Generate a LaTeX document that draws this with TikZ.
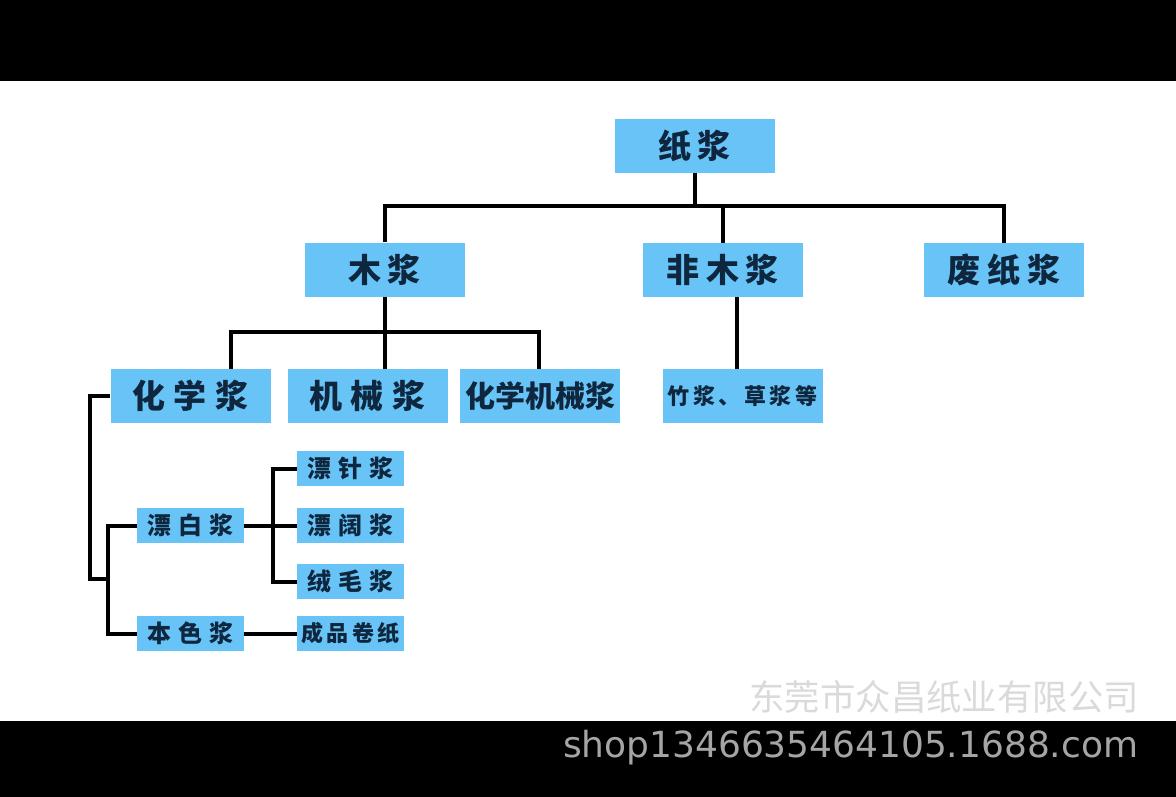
\documentclass[tikz,border=0pt]{standalone}
\usepackage{fontspec}
\newfontfamily\cjk{Noto Sans CJK SC}
\newfontfamily\dvs{DejaVu Sans}
\definecolor{boxblue}{RGB}{104,196,246}
\definecolor{txtnavy}{RGB}{14,38,62}
\definecolor{wmgray}{RGB}{218,218,218}
\definecolor{shopgray}{RGB}{165,165,165}
\newcommand\gp[1]{\hspace{#1pt}}
\begin{document}
\begin{tikzpicture}[x=1pt,y=-1pt,
  box/.style={fill=boxblue, draw=none, inner sep=0pt, text=txtnavy},
  bigbox/.style={box, minimum width=160pt, minimum height=54pt, font=\cjk\bfseries\fontsize{33}{33}\selectfont},
  smallbox/.style={box, minimum width=107pt, minimum height=35pt, font=\cjk\bfseries\fontsize{24}{24}\selectfont},
  link/.style={line width=4pt, black, line join=miter}]
\useasboundingbox (0,0) rectangle (1176,797);
\fill[black] (0,0) rectangle (1176,81);
\fill[white] (0,81) rectangle (1176,721);
\fill[black] (0,721) rectangle (1176,797);

% level 0
\node[bigbox] (zj) at (694.5,146) {纸\gp{6}浆};
% level 1
\node[bigbox] (mj) at (384.5,269.5) {木\gp{6}浆};
\node[bigbox] (fmj) at (722.5,270) {非\gp{7}木\gp{7}浆};
\node[bigbox] (fzj) at (1004,270) {废\gp{7}纸\gp{7}浆};
% level 2
\node[bigbox] (hxj) at (190.5,396) {化\gp{9}学\gp{9}浆};
\node[bigbox] (jxj) at (367.5,396) {机\gp{9}械\gp{9}浆};
\node[bigbox, font=\cjk\bfseries\fontsize{30}{30}\selectfont] (hxjxj) at (540,396) {化学机械浆};
\node[bigbox, font=\cjk\bfseries\fontsize{22}{22}\selectfont] (zcj) at (742.5,396) {竹\gp{3.5}浆\gp{3.5}、\gp{3.5}草\gp{3.5}浆\gp{3.5}等};
% level 3
\node[smallbox] (pbj) at (190.5,525.5) {漂\gp{7}白\gp{7}浆};
\node[smallbox] (bsj) at (190.5,633.5) {本\gp{7}色\gp{7}浆};
\node[smallbox] (pzj) at (350.5,468.5) {漂\gp{7}针\gp{7}浆};
\node[smallbox] (pkj) at (350.5,525.5) {漂\gp{7}阔\gp{7}浆};
\node[smallbox] (rmj) at (350.5,581.5) {绒\gp{7}毛\gp{7}浆};
\node[smallbox, font=\cjk\bfseries\fontsize{22}{22}\selectfont] (cpjz) at (350.5,633.5) {成\gp{3.5}品\gp{3.5}卷\gp{3.5}纸};

% connectors
\coordinate (bus1) at (694.5,206);
\draw[link] (zj.south) -- (zj.south |- bus1);
\draw[link] (mj.north) -- (mj.north |- bus1) -- (fzj.north |- bus1) -- (fzj.north);
\draw[link] (fmj.north) -- (fmj.north |- bus1);

\coordinate (b2l) at (231,332);
\coordinate (b2r) at (539,332);
\draw[link] (mj.south) -- (mj.south |- b2l);
\draw[link] (hxj.north -| b2l) -- (b2l) -- (b2r) -- (hxjxj.north -| b2r);
\draw[link] (mj.south |- b2l) -- (jxj.north -| mj.south);

\coordinate (c3) at (737,0);
\draw[link] (fmj.south -| c3) -- (zcj.north -| c3);

\coordinate (l1) at (90,579);
\coordinate (l2) at (108,579);
\draw[link] (hxj.west) -- (hxj.west -| l1) -- (l1) -- (l2);
\draw[link] (pbj.west) -- (pbj.west -| l2) -- (bsj.west -| l2) -- (bsj.west);

\coordinate (r1) at (273,0);
\draw[link] (pbj.east) -- (pkj.west);
\draw[link] (pzj.west) -- (pzj.west -| r1) -- (rmj.west -| r1) -- (rmj.west);
\draw[link] (bsj.east) -- (cpjz.west);

% watermark texts
\node[anchor=east, inner sep=0pt, text=wmgray, font=\cjk\fontsize{35.4}{35.4}\selectfont] (wm) at (1139,697) {东莞市众昌纸业有限公司};
\node[anchor=west, inner sep=0pt, text=shopgray] (shop) at (563,748)
  {\resizebox{575pt}{!}{\dvs shop1346635464105.1688.com}};
\end{tikzpicture}
\end{document}
